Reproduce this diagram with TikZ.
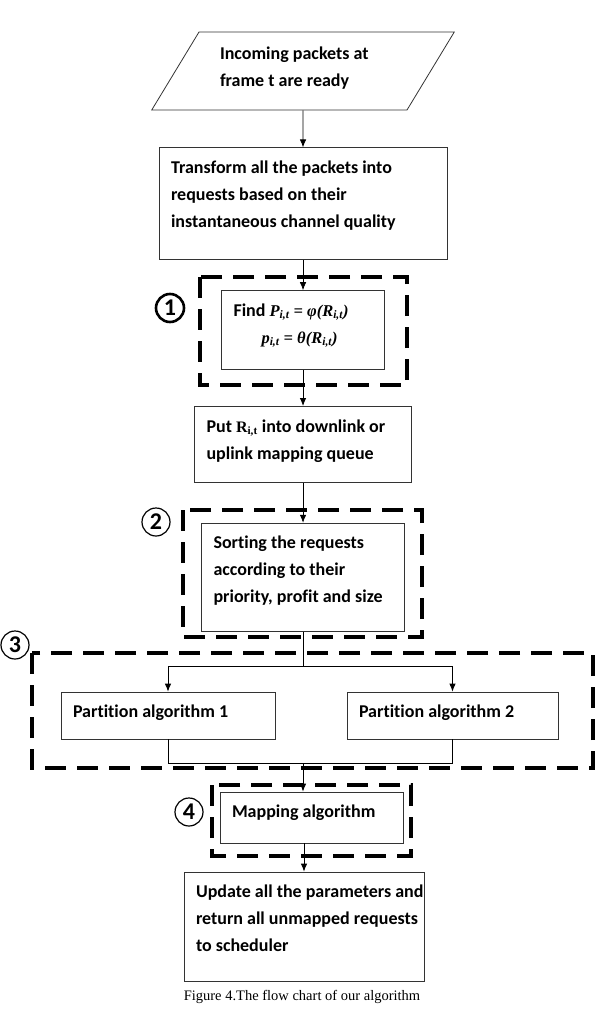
\documentclass[tikz,border=0pt]{standalone}
\usepackage{fontspec}
\setmainfont{Carlito}[Ligatures=NoCommon]
\newfontfamily\tnr{Liberation Serif}
\usetikzlibrary{positioning,shapes.geometric,arrows.meta}

\newcommand{\boxtxt}[3]{\parbox[c][#2][t]{#1}{\raggedright #3}}
\newcommand{\tms}{\tnr\fontsize{16.5}{27}\selectfont}

\begin{document}
\begin{tikzpicture}[x=1pt,y=-1pt,
    box/.style={draw=black!80, line width=0.8pt, fill=white, inner xsep=12pt, inner ysep=13pt, font=\fontsize{18}{27}\selectfont\bfseries},
    grp/.style={line width=4.5pt, dash pattern=on 21pt off 11pt},
    num/.style={draw, circle, line width=1.2pt, inner sep=0pt, minimum size=28pt, font=\fontsize{24}{24}\selectfont\bfseries},
    line/.style={line width=0.8pt},
    arr/.style={-{Latex[length=8pt,width=6.5pt]}}]
        \useasboundingbox (0,0) rectangle (604,1027);

        % dashed groups
        \draw[grp] (200,277) rectangle (407,385);
        \draw[grp] (183,510) rectangle (422,637);
        \draw[grp] (32,653) rectangle (593,768);
        \draw[grp] (212,785) rectangle (411,856);

        \node[trapezium, trapezium left angle=52.4, trapezium right angle=127.6, trapezium stretches=true, draw=black!80, line width=0.8pt, minimum width=303pt, minimum height=78pt, inner sep=0pt, font=\fontsize{18}{27}\selectfont\bfseries] (in) at (303,71) {\boxtxt{166pt}{49pt}{Incoming packets at\\frame t are ready}};
        \node[box] (tr) [below=37pt of in] {\boxtxt{264pt}{86pt}{Transform all the packets into\\requests based on their\\instantaneous channel quality}};
        \node[box] (fd) [below=30pt of tr] {\boxtxt{139pt}{53pt}{\mbox{Find {\tms\bfseries\itshape P\textsubscript{i,t} = φ(R\textsubscript{i,t})}}\\\hspace*{28pt}{\tms\bfseries\itshape p\textsubscript{i,t} = θ(R\textsubscript{i,t})}}};
        \node[box] (pt) [below=36pt of fd] {\boxtxt{193pt}{50pt}{\mbox{Put {\tnr\fontsize{16}{27}\selectfont R\textsubscript{i,t}} into downlink or}\\uplink mapping queue}};
        \node[box] (st) [below=40pt of pt] {\boxtxt{179pt}{82pt}{Sorting the requests\\according to their\\\mbox{priority, profit and size}}};
        \coordinate[below=35pt of st] (sp);
        \node[box] (pa) at (168,715.5) {\boxtxt{190pt}{21pt}{Partition algorithm 1}};
        \node[box] (pb) at (452.5,715.5) {\boxtxt{187pt}{21pt}{Partition algorithm 2}};
        \coordinate (mg) at (303,763);
        \node[box] (mp) at (311.5,817.5) {\boxtxt{159pt}{25pt}{Mapping algorithm}};
        \node[box] (up) at (304,926.5) {\boxtxt{216pt}{83pt}{\mbox{Update all the parameters and}\\\mbox{return all unmapped requests}\\to scheduler}};

        \node[num, line width=2.6pt] (n1) at (170,308) {1};
        \node[num] (n2) at (156,522) {2};
        \node[num] (n3) at (15,645) {3};
        \node[num] (n4) at (189,812) {4};

        \node[font=\tnr\fontsize{14.5}{16}\selectfont] (cap) at (302,997) {Figure 4.The flow chart of our algorithm};

        \draw[line] (in) edge[arr] (tr) (tr) edge[arr] (fd) (fd) edge[arr] (pt) (pt) edge[arr] (st);
        \draw[line] (st) -- (sp) (pa |- sp) -- (pb |- sp) (pa |- sp) edge[arr] (pa) (pb |- sp) edge[arr] (pb);
        \draw[line] (pa) -- (pa |- mg) -- (pb |- mg) -- (pb);
        \draw[line] (mg) edge[arr] (mg |- mp.north) (mp.south -| up) edge[arr] (up);

        \end{tikzpicture}
\end{document}
